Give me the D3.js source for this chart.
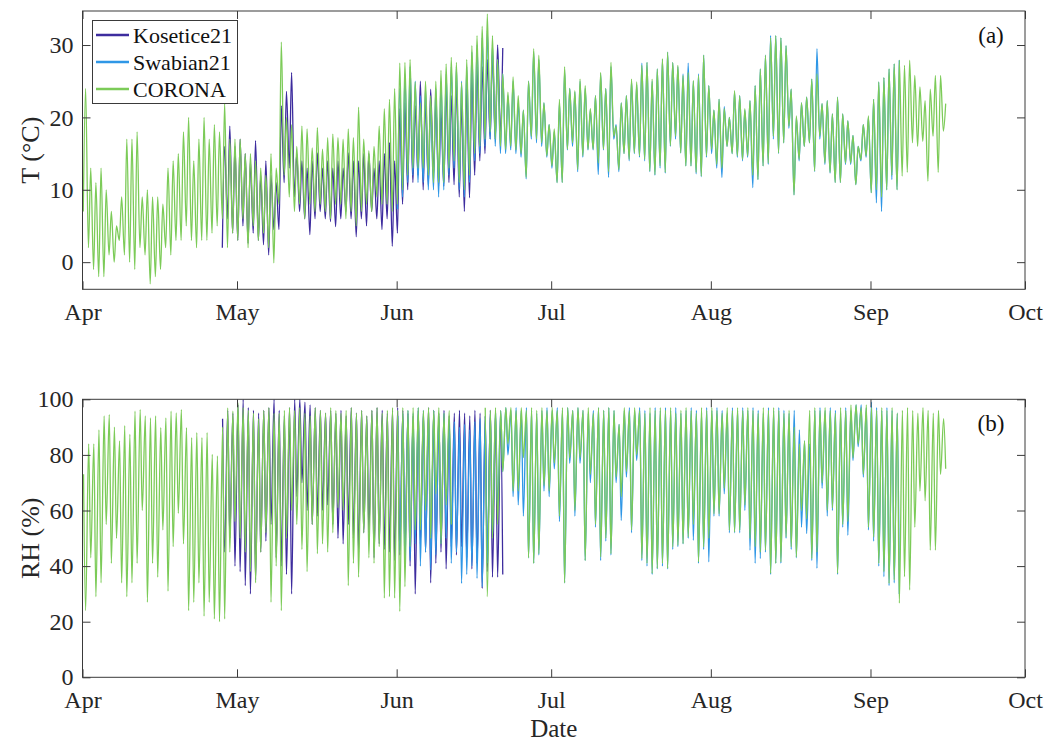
<!DOCTYPE html>
<html>
<head>
<meta charset="utf-8">
<script src="https://cdn.jsdelivr.net/npm/d3@7"></script>
<style>
  html, body { margin: 0; padding: 0; background: #fff; }
  svg { display: block; font-family: "Liberation Serif", "Times New Roman", serif; }
</style>
</head>
<body>
<svg id="chart" width="1049" height="744"></svg>
<script>
// ---- data: daily extremes, day 0 = 1 April 2021 ----
const monthLabels = ["Apr", "May", "Jun", "Jul", "Aug", "Sep", "Oct"];
const seriesNames = ["Kosetice21", "Swabian21", "CORONA"];
const tempTicks = [0, 10, 20, 30];
const rhTicks = [0, 20, 40, 60, 80, 100];

// CORONA, air temperature (°C), starts day 0
const coronaTempStart = 0;
const coronaTempMax = [
  24,13,11,13,10,7,5,9,17,17,18,9,10,9,9,8,13,14,15,18,20,14,17,20,17,19,18,22,17,17,
  17,15,15,14,13,12,15,13,30.4,20,19,
  16,18.8,18.4,15.8,18.6,15.6,17.2,17.7,17.2,17,18.4,17.2,21.4,17,15.4,16,18.8,21.2,22.5,24,
  27.5,27.6,28,24.9,22,25,23,25,26.5,27.4,28.3,27.6,24.8,28,29.9,31.3,32.6,34.3,31.3,28,26,23.5,25.6,23,21,25,29.5,28.6,22,19,
  18.4,22.5,27,24,23.7,25.3,24.4,21.2,23,26.2,24,27.6,18.8,22,23,25.3,24.9,27.2,27.6,25.3,26.7,28.1,29,27.6,27.2,25.8,26.2,25.1,25.8,28.6,24.4,
  21,22.5,21.2,20,23.7,23,21.2,22.3,24.4,26.7,28.6,31,31.3,31,29.9,23.9,20.2,22,22.8,25.3,26,21.9,22.3,20.5,22.8,20.5,19.5,17.5,16,19,20.2,
  22.5,24.9,25.5,26.7,27.4,27.9,27.2,27.9,25.8,24.2,22.3,23.9,25.8,25.8,21.9
];
const coronaTempMin = [
  7,2,-1,-2,-2,1,0,3,1,0,-1,2,1,-3,-2,-1,2,1,3,3,5,3,2,3,3,4,5,6,2,4,
  3,6,2,5,3,4,2,-0.1,8,12,9,
  7,8,6,8,7,8,7,6,8,8,6,7,5,7,8,7,9,8,8,7,
  8,10,12,13,13,13,12,11,11,11,13,14,11,10,12,15,16,17,18,17,16,15.6,16,15.5,15,11.7,17.4,17,16.5,14.7,
  13.3,11,11,15.6,16.5,12.8,14.7,15.6,15.6,13.7,15.6,12.5,17.4,12.8,15,14.2,15.1,14.7,14.2,12.6,12.1,13.3,12.4,16.1,17.4,15.1,13.3,13.3,12.4,11.9,14.7,
  15.6,13.5,13,16,15,14.7,14.2,14.7,12,11.4,13.3,13.7,17.4,15.1,16.5,18.8,9.3,14.2,16,16.5,12.6,17.4,13.7,12.4,11,11,13.7,13.7,10.7,14.2,14.7,
  9.6,10,9,10,12,10,11.9,12.4,16.5,16,16.7,11.2,17.4,12.4,18.1
];

// Kosetice21, air temperature (°C), starts day 27
const kosTempStart = 27;
const kosTempMax = [
  16,18.8,16,17,15,14,16.8,12,14,12,11,
  21.6,23.6,26.2,
  15,14,13,14,15.1,13,14,13,14,13,
  15.1,14,14,15,15,13,14,15,16.5,14,
  21.2,22,24.9,21.6,25,22.3,23.9,22,21,24,
  23,25,22,24,26,27,27,28,29,30,29.6
];
const kosTempMin = [
  2,6,4,3,5,2.6,4,3,2.4,1,4.5,
  4.5,11,13,
  9,7,6,3.8,6,7,6,5.6,4.9,6,
  7,6,3.5,6,5,7,6,4.5,6,2.2,
  4,8,10,11,12,10,10.7,12,10.5,10.5,
  11,10.7,9,7,8.9,12,14,15,17,17,18
];

// Swabian21, air temperature (°C), starts day 61
const swabTempStart = 61;
const swabTempMax = [
  24,26,27,25,23,24,22,24,25,26,27,27,25,27,29,30,31,32,30,28,26,23,25,22,21,25,29,28,22,19,
  18,22,26.5,24,23.5,25,24,21,23,26,24,27,19,22,23,25,24.5,27.5,27.6,25,26.7,28,29,27.6,27,26,27.5,25,26,28.6,24.4,
  21,22.5,21.5,20,23.5,23,21,22.3,24.4,26.7,28.6,31.3,31.3,31,29.9,23.9,20,22,22.8,25.3,29.5,21.9,22.3,20.5,22.8,20.5,19.5,17.5,16,19,20,
  22.5,24.9,25.5,26.7,27.4,27.9
];
const swabTempMin = [
  7.3,9,11,12,11,11,10,10,9,10,12,13,10,9,11,14,15,16,17,16,15,15,15.5,15,14.5,11.5,17,16.5,16,14.5,
  13,11,11,15.5,16,12.5,14.5,15.5,15.5,12.1,15.5,11.7,17,12.5,15,14,15,14.5,14,12.5,12,13,12.3,16,17,15.1,13.3,13.3,12.2,11.8,14.5,
  15,13,11.7,16,15,14.5,14,14.5,10.3,11.4,13.3,13.5,17,15,16.5,18.5,9.3,14,16,16.5,12.5,17,13.5,12.3,11,11,13.5,13.5,10.7,14,14.5,
  9.6,8.2,7,10,11.4,10
];

// CORONA, relative humidity (%), starts day 0; null = no record
const coronaRhStart = 0;
const coronaRhMax = [
  73,84,84,89,94,94.5,90,85,90.5,87.4,95.7,96.3,94,93.3,94,89.8,93.3,95.7,95.1,96.3,89.8,86.2,88,86.2,88,80.2,79.6,90,96.9,95.7,
  98.7,97,96,95,93,96,97,95,95,96,97,96,97,95,94,97,96,95,97,96,95,96,97,95,96,94,96,97,95,96,97,
  96,97,96,97,97,96,97,96,97,95,96,null,null,null,null,null,null,97,96,97,96,97,97,96,97,96,97,96,97,96,
  97,96,97,97,96,97,96,97,95,97,96,97,96,91,97,96,97,96,95,97,96,97,96,97,95,96,97,96,95,97,96,
  97,96,95,97,96,97,96,97,96,95,97,96,97,96,95,96,90,84,85,96,97,96,97,96,95,97,96,98,98,97,98,
  97,96,97,96,97,95,96,97,96,95,97,96,95,96,93
];
const coronaRhMin = [
  24,43,29,34,55,41,50,34,29,34,41,60,27,41,36,53,31,47,59,48,24,27,34,22,27,21,20,21,45,56,
  50,45,38,34,45,52,27,40,24,50,60,55,46,38,55,44.5,48,45,52,61,60,33,41,36,52,43,41,47,28.5,29,28.5,
  23.7,32.6,47,53,53,60,50,66,48,62,55,null,null,null,null,null,null,29,50,55,74,84,67,67,79,43,41,44.5,69,67,
  77,58,34,79,60,79,42,73,55,43.3,50,44.5,72,65,74,53,80,42.7,41,37.4,39.2,41,39.2,46.9,47.5,48.1,50.5,55,41.5,46.9,50,
  58.8,58.8,68,52.9,52.3,52.9,62,50,47,45,45.7,37.4,41,41.5,50.5,46.9,43.3,60,57,42.7,45,70,60,61,37.4,55,56,79,84,73,54,
  50.5,41,38,33.8,35,26.7,36.2,31.4,54,67,63.5,45.7,45.7,73,75
];

// Kosetice21, relative humidity (%), starts day 27
const kosRhStart = 27;
const kosRhMax = [
  93,96,95,98,100,97,96,95,96,97,
  100,96,94,97,100,100,99,98,97,96,
  95,96,95,96,94,97,95,96,94,96,
  97,96,95,96,97,96,95,94,96,95,
  97,96,95,96,94,95,96,95,94,96,
  95,94,96,95,93
];
const kosRhMin = [
  45,50,40,38,33,30,35,45,49,55,
  43,40,37,30,65,70,60,55,58,60,
  62,55,50,48,55,50,45,52,52,43,
  48,46,45,42,44,45,40,30,48,45,
  34,41,45,39,47,44,47,43,39,41,
  32,38,36,36,37
];

// Swabian21, relative humidity (%), starts day 61
const swabRhStart = 61;
const swabRhMax = [
  94,95,96,95,97,96,95,96,94,95,
  93,92,90,91,89,92,93,94,95,96,
  96,97,96,97,96,97,96,95,96,97,
  96,97,96,97,96,97,96,95,96,97,
  96,97,96,91,96,97,96,97,96,95,
  97,96,97,96,97,95,96,97,96,95,97,
  96,97,96,95,97,96,97,96,97,96,
  95,97,96,97,96,95,96,89,85,84,
  96,97,96,97,96,95,97,96,98,98,97,
  99,97,96,97,96,95
];
const swabRhMin = [
  45,40,42,48,40,45,38.6,44,48,50,
  41,45,33.8,37,40,35.6,32.6,41,50,60,
  74,80,65,62,58,43,41,44,67,65,
  75,56,34,77,58,77,42,70,54,42,
  49,44,70,56.4,72,52,78,42,40,37,
  39,40,39,46,47,48,50,49.3,41,46,41.5,
  58,58,66,52,52,52,60,45.7,41,42.7,
  45,37,41,41,50,46,43,54,51.7,42,
  39.2,68,58,60,37,54,51.1,78,83,72,53,
  49,40,36.2,33,34,30
];

// ---- drawing ----
const DAY = 86400000;
const t0 = Date.UTC(2021, 3, 1);
const dayToDate = d => new Date(t0 + d * DAY);

// Daily extremes become a diurnal trace: one point for the low, one for the high.
function diurnal(start, highs, lows, highAt, lowAt) {
  const pts = [];
  highs.forEach((h, i) => {
    const d = start + i;
    const a = { t: dayToDate(d + lowAt), v: lows[i] };
    const b = { t: dayToDate(d + highAt), v: h };
    if (lowAt < highAt) pts.push(a, b); else pts.push(b, a);
  });
  return pts;
}

const colors = { "Kosetice21": "#3d2c9e", "Swabian21": "#2f97e6", "CORONA": "#7ccb58" };
const FONT = '"Liberation Serif", "Times New Roman", serif';

const tempSeries = [
  { name: "Kosetice21", pts: diurnal(kosTempStart, kosTempMax, kosTempMin, 0.6, 0.15) },
  { name: "Swabian21", pts: diurnal(swabTempStart, swabTempMax, swabTempMin, 0.6, 0.15) },
  { name: "CORONA", pts: diurnal(coronaTempStart, coronaTempMax, coronaTempMin, 0.6, 0.15) }
];
const rhSeries = [
  { name: "Kosetice21", pts: diurnal(kosRhStart, kosRhMax, kosRhMin, 0.2, 0.6) },
  { name: "Swabian21", pts: diurnal(swabRhStart, swabRhMax, swabRhMin, 0.2, 0.6) },
  { name: "CORONA", pts: diurnal(coronaRhStart, coronaRhMax, coronaRhMin, 0.2, 0.6) }
];

const svg = d3.select("#chart");
const left = 82.5, right = 1025;

const x = d3.scaleUtc()
  .domain([new Date(Date.UTC(2021, 3, 1)), new Date(Date.UTC(2021, 9, 1))])
  .range([left, right]);
const monthTicks = monthLabels.map((m, i) => new Date(Date.UTC(2021, 3 + i, 1)));

function panel(opts) {
  const { top, bottom, domain, ticks, series, yLabel, tag, legend } = opts;
  const y = d3.scaleLinear().domain(domain).range([bottom, top]);
  const g = svg.append("g");
  const TL = 8;

  const clipId = "clip" + tag.replace(/\W/g, "");
  svg.append("clipPath").attr("id", clipId)
    .append("rect").attr("x", left).attr("y", top).attr("width", right - left).attr("height", bottom - top);

  const line = d3.line()
    .defined(p => p.v != null)
    .x(p => x(p.t)).y(p => y(p.v))
    .curve(d3.curveMonotoneX);

  const lines = g.append("g").attr("clip-path", `url(#${clipId})`);
  series.forEach(s => {
    lines.append("path")
      .attr("d", line(s.pts))
      .attr("fill", "none")
      .attr("stroke", colors[s.name])
      .attr("stroke-width", 1.3)
      .attr("stroke-linejoin", "round");
  });

  // frame
  g.append("rect")
    .attr("x", left).attr("y", top)
    .attr("width", right - left).attr("height", bottom - top)
    .attr("fill", "none").attr("stroke", "#3a3a3a").attr("stroke-width", 1);

  // x axis (ticks inside, mirrored on top)
  const xb = g.append("g").attr("transform", `translate(0,${bottom})`)
    .call(d3.axisBottom(x).tickValues(monthTicks).tickSize(-TL).tickPadding(14)
      .tickFormat((d, i) => monthLabels[i]));
  const xt = g.append("g").attr("transform", `translate(0,${top})`)
    .call(d3.axisTop(x).tickValues(monthTicks).tickSize(-TL).tickFormat(""));
  // y axis (ticks inside, mirrored on right)
  const yl = g.append("g").attr("transform", `translate(${left},0)`)
    .call(d3.axisLeft(y).tickValues(ticks).tickSize(-TL).tickPadding(9));
  const yr = g.append("g").attr("transform", `translate(${right},0)`)
    .call(d3.axisRight(y).tickValues(ticks).tickSize(-TL).tickFormat(""));

  [xb, xt, yl, yr].forEach(a => {
    a.select(".domain").remove();
    a.selectAll(".tick line").attr("stroke", "#3a3a3a");
    a.selectAll(".tick text")
      .attr("fill", "#262626")
      .style("font-family", FONT)
      .style("font-size", "24px");
  });

  g.append("text")
    .attr("transform", `translate(30,${(top + bottom) / 2}) rotate(-90)`)
    .attr("text-anchor", "middle")
    .attr("dy", "0.35em")
    .attr("fill", "#262626")
    .style("font-size", "26px")
    .text(yLabel);

  g.append("text")
    .attr("x", 991).attr("y", top + 24)
    .attr("text-anchor", "middle")
    .attr("dy", "0.35em")
    .attr("fill", "#111")
    .style("font-size", "23px")
    .text(tag);

  if (legend) {
    const lg = g.append("g");
    lg.append("rect")
      .attr("x", 92.5).attr("y", 20.5).attr("width", 145).attr("height", 83)
      .attr("fill", "#fff").attr("stroke", "#3a3a3a").attr("stroke-width", 1);
    seriesNames.forEach((n, i) => {
      const yy = 35 + i * 27;
      lg.append("line")
        .attr("x1", 96).attr("x2", 129).attr("y1", yy).attr("y2", yy)
        .attr("stroke", colors[n]).attr("stroke-width", 2.6);
      lg.append("text")
        .attr("x", 133).attr("y", yy)
        .attr("dy", "0.35em")
        .attr("fill", "#111")
        .style("font-size", "22px")
        .text(n);
    });
  }
  return y;
}

panel({ top: 11, bottom: 289.3, domain: [-3.75, 34.7], ticks: tempTicks,
  series: tempSeries, yLabel: "T (°C)", tag: "(a)", legend: true });
panel({ top: 399.3, bottom: 677.3, domain: [0, 100], ticks: rhTicks,
  series: rhSeries, yLabel: "RH (%)", tag: "(b)", legend: false });

svg.append("text")
  .attr("x", (left + right) / 2).attr("y", 737)
  .attr("text-anchor", "middle")
  .attr("fill", "#262626")
  .style("font-size", "25px")
  .text("Date");
</script>
</body>
</html>
